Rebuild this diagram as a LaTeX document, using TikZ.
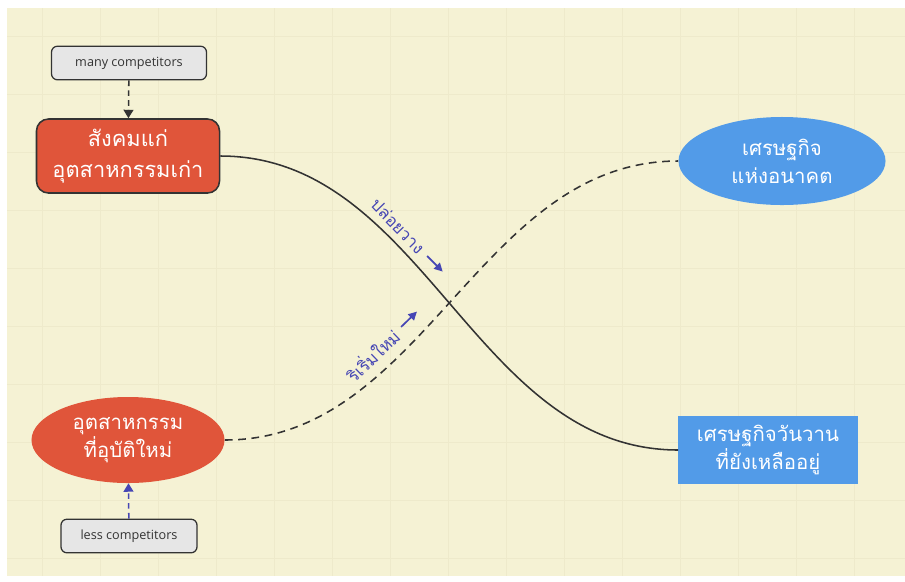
\documentclass[tikz,border=0pt]{standalone}
\usepackage{fontspec}
\setmainfont{Open Sans}
\newfontfamily\thaifont[Script=Thai]{Loma}
\usetikzlibrary{arrows.meta,shapes.geometric}

\definecolor{paper}{HTML}{F5F2D4}
\definecolor{gridline}{HTML}{EEEACB}
\definecolor{oldred}{HTML}{E0553A}
\definecolor{newblue}{HTML}{529BE8}
\definecolor{notegray}{HTML}{E6E6E6}
\definecolor{ink}{HTML}{333333}
\definecolor{tagblue}{HTML}{4646B4}

\begin{document}
\begin{tikzpicture}[x=0.025cm, y=-0.025cm,
    note/.style={draw=ink, line width=0.9pt, fill=notegray, rounded corners=0.15cm,
      minimum height=0.84cm, text=ink, font=\fontsize{9}{11}\selectfont},
    thaitext/.style={text=white, align=center, inner sep=0pt},
    link/.style={ink, line width=1.1pt},
    tag/.style={text=tagblue, inner sep=1pt, font=\thaifont\fontsize{12}{14}\selectfont},
    tagarrow/.style={tagblue, line width=1.2pt, -{Triangle[length=6pt, width=6pt]}}
  ]
  % Pagina en raster
  \useasboundingbox (0,0) rectangle (905,581);
  \fill[white] (0,0) rectangle (905,581);
  \fill[paper] (7,8) rectangle (905,576);
  \foreach \gx in {42,100,...,900}
    \draw[gridline, line width=0.4pt] (\gx,8) -- (\gx,576);
  \foreach \gy in {36,94,...,576}
    \draw[gridline, line width=0.4pt] (7,\gy) -- (905,\gy);

  % Knopen links
  \node[note, minimum width=3.875cm] (many) at (129,63) {many competitors};
  \node[draw=ink, line width=1.1pt, fill=oldred, rounded corners=0.3cm,
    minimum width=4.575cm, minimum height=1.85cm, thaitext,
    font=\thaifont\fontsize{15.5}{22}\selectfont] (old) at (128,156)
    {สังคมแก่\\อุตสาหกรรมเก่า};
  \node[ellipse, fill=oldred, minimum width=4.825cm, minimum height=2.15cm, thaitext,
    font=\thaifont\fontsize{14.5}{20}\selectfont] (new) at (128,440)
    {อุตสาหกรรม\\ที่อุบัติใหม่};
  \node[note, minimum width=3.4cm] (less) at (129,536) {less competitors};

  % Knopen rechts
  \node[ellipse, fill=newblue, minimum width=5.175cm, minimum height=2.2cm, thaitext,
    font=\thaifont\fontsize{14.5}{20}\selectfont] (future) at (782,161)
    {เศรษฐกิจ\\แห่งอนาคต};
  \node[rectangle, fill=newblue, minimum width=4.475cm, minimum height=1.7cm, thaitext,
    font=\thaifont\fontsize{14.5}{20}\selectfont] (stay) at (768,450)
    {เศรษฐกิจวันวาน\\ที่ยังเหลืออยู่};

  % Pijlen van de notities
  \draw[ink, line width=1.1pt, dash pattern=on 4pt off 3pt,
    -{Triangle[length=6pt, width=7pt]}] (many) -- (old);
  \draw[tagblue, line width=1.1pt, dash pattern=on 4pt off 3pt,
    -{Triangle[length=6pt, width=7pt]}] (less) -- (new);

  % Krommen
  \draw[link] (old.east) .. controls +(205,0) and +(-205,0) .. (stay.west);
  \draw[link, dash pattern=on 5.5pt off 4pt] (new.east) .. controls +(200,0) and +(-200,0) .. (future.west);

  % Labels langs de krommen
  \node[tag, rotate=-46] (letgo) at (398,226) {ปล่อยวาง};
  \path (letgo.east) ++(-45:0.15cm) coordinate (lg1) ++(-45:0.55cm) coordinate (lg2);
  \draw[tagarrow] (lg1) -- (lg2);
  \node[tag, rotate=44] (restart) at (372,355) {ริเริ่มใหม่};
  \path (restart.east) ++(44:0.15cm) coordinate (rs1) ++(44:0.55cm) coordinate (rs2);
  \draw[tagarrow] (rs1) -- (rs2);
\end{tikzpicture}
\end{document}
